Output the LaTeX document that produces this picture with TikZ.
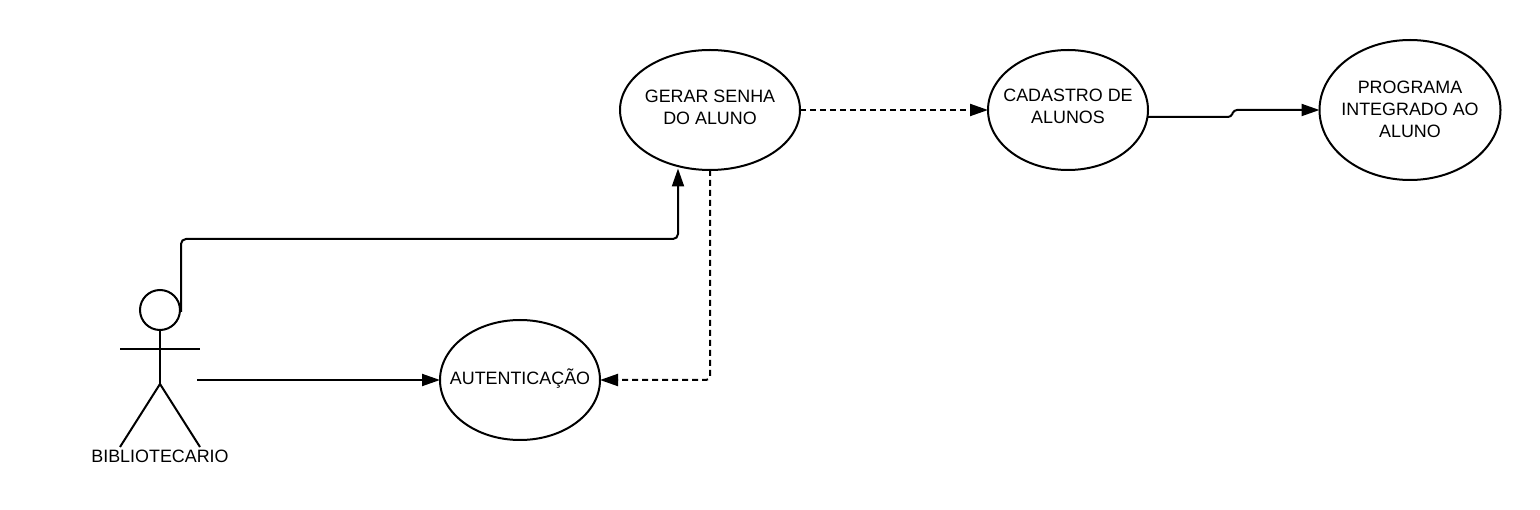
\documentclass[tikz,border=0pt]{standalone}
\usepackage{fontspec}
\setmainfont{Liberation Sans}
\usetikzlibrary{arrows.meta,shapes.geometric}
\newcommand\liftedtext[2]{\makebox[0pt]{\raisebox{#1}[0pt][0pt]{\begin{tabular}{@{}c@{}}#2\end{tabular}}}}
\tikzset{
  x=1pt,y=-1pt,
  uc/.style={draw=black,line width=2pt,ellipse,inner sep=0pt,outer sep=0pt,font=\fontsize{17.9}{22}\selectfont},
  conn/.style={draw=black,line width=2pt,-{Triangle[length=18pt,width=12pt]}},
  dconn/.style={conn,dash pattern=on 6pt off 4pt},
  stick/.style={draw=black,line width=2pt},
  lbl/.style={inner sep=0pt,font=\fontsize{17.9}{22}\selectfont}
}
\begin{document}
\begin{tikzpicture}
\useasboundingbox (0,0) rectangle (1540,510);
\fill[white] (0,0) rectangle (1540,510);
\node[uc,minimum width=180pt,minimum height=120pt] (gerar) at (710,110) {\liftedtext{-3pt}{GERAR SENHA\\DO ALUNO}};
\node[uc,minimum width=160pt,minimum height=120pt] (cad) at (1068,110) {\liftedtext{-2.5pt}{CADASTRO DE\\ALUNOS}};
\node[uc,minimum width=181pt,minimum height=140pt] (prog) at (1410,110) {\liftedtext{-5.5pt}{PROGRAMA\\INTEGRADO AO\\ALUNO}};
\node[uc,minimum width=160pt,minimum height=120pt] (aut) at (520,380) {\liftedtext{-4.5pt}{AUTENTICAÇÃO}};
% actor
\node[draw=black,line width=2pt,circle,minimum size=40pt,inner sep=0pt,outer sep=0pt] (head) at (160,310) {};
\coordinate (hip) at (160,384);
\draw[stick] (head.south) -- (hip);
\draw[stick] (120,349) -- (200,349);
\draw[stick] (120,447) -- (hip) -- (200,447);
\node[lbl] (actorT) at (160,456.5) {BIBLIOTECARIO};
% connector ends
\coordinate (actorR) at (197,380);
\coordinate (headR) at (181,312);
\coordinate (gerarB) at (678,168.5);
\coordinate (cadE) at (1148,117);
% connectors
\draw[conn,rounded corners=5pt] (headR) -- (181,239) -- (678,239) -- (gerarB);
\draw[conn] (actorR) -- (aut.west);
\draw[dconn,rounded corners=4pt] (gerar.south) -- (710,380) -- (aut.east);
\draw[dconn] (gerar.east) -- (cad.west);
\draw[conn,rounded corners=3pt] (cadE) -- (1231,117) -- (1234,110) -- (prog.west);
\end{tikzpicture}
\end{document}
